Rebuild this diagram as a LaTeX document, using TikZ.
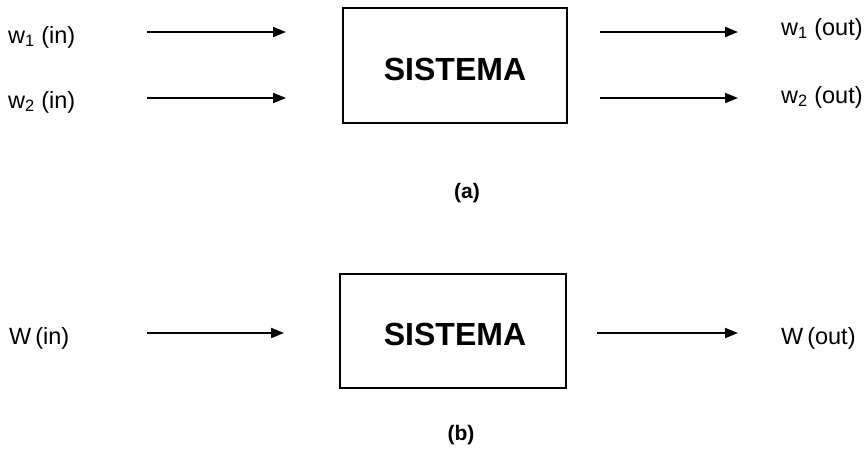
\documentclass[tikz,border=0pt]{standalone}
\usepackage{fontspec}
\setmainfont{Liberation Sans}
\usetikzlibrary{arrows.meta}
\begin{document}
\begin{tikzpicture}[x=1pt,y=-1pt,
  sysbox/.style={draw,line width=1.8pt,inner sep=0pt},
  systext/.style={font=\fontsize{32}{36}\selectfont\bfseries,inner sep=0pt},
  lbl/.style={font=\fontsize{23.5}{27}\selectfont,inner sep=0pt},
  captext/.style={font=\fontsize{21}{24}\selectfont\bfseries,inner sep=0pt},
  flow/.style={line width=2pt,-{Triangle[length=13pt,width=10pt]}}]
\useasboundingbox (0,0) rectangle (868,451);
% (a)
\node[sysbox,minimum width=224pt,minimum height=115pt] (boxa) at (455,65.5) {};
\node[systext] (sysa) at (455,69) {SISTEMA};
\node[lbl,anchor=west] (w1in) at (8,37) {w\textsubscript{1} (in)};
\node[lbl,anchor=west] (w2in) at (8,102) {w\textsubscript{2} (in)};
\node[lbl,anchor=west] (w1out) at (781,29) {w\textsubscript{1} (out)};
\node[lbl,anchor=west] (w2out) at (781,97) {w\textsubscript{2} (out)};
\coordinate (a1s) at (147,32); \coordinate (a1e) at (286,32);
\coordinate (a2s) at (147,98); \coordinate (a2e) at (286,98);
\coordinate (a3s) at (600,32); \coordinate (a3e) at (738,32);
\coordinate (a4s) at (600,98); \coordinate (a4e) at (738,98);
\draw[flow] (a1s) -- (a1e);
\draw[flow] (a2s) -- (a2e);
\draw[flow] (a3s) -- (a3e);
\draw[flow] (a4s) -- (a4e);
\node[captext] (capa) at (467,193) {(a)};
% (b)
\node[sysbox,minimum width=226pt,minimum height=114pt] (boxb) at (453,331) {};
\node[systext] (sysb) at (455,334) {SISTEMA};
\node[lbl,anchor=west] (Win) at (9,338) {W\,(in)};
\node[lbl,anchor=west] (Wout) at (781,338) {W\,(out)};
\coordinate (b1s) at (147,333); \coordinate (b1e) at (284,333);
\coordinate (b2s) at (597,333); \coordinate (b2e) at (738,333);
\draw[flow] (b1s) -- (b1e);
\draw[flow] (b2s) -- (b2e);
\node[captext] (capb) at (461,435) {(b)};
\end{tikzpicture}
\end{document}
